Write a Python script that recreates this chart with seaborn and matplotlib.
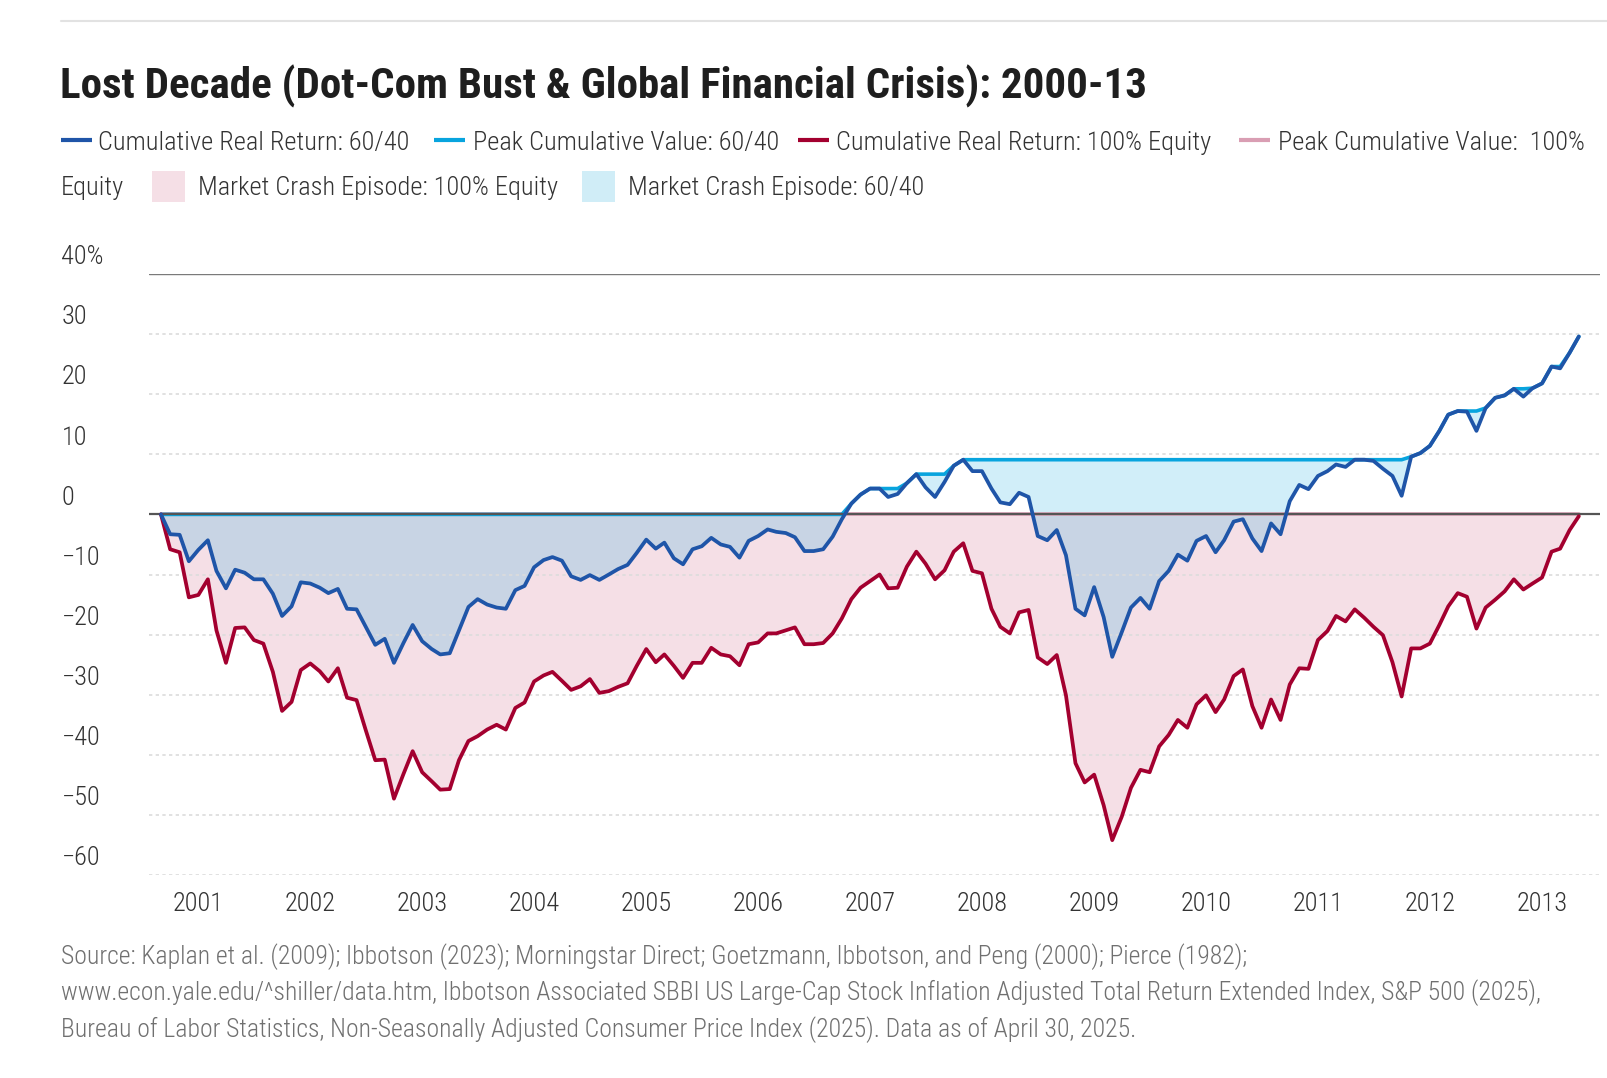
import matplotlib
matplotlib.use('Agg')
import matplotlib.pyplot as plt
from matplotlib import font_manager
from matplotlib.lines import Line2D
from matplotlib.patches import Rectangle
import pandas as pd
import seaborn as sns


# ---- Data ----------------------------------------------------####

# monthly cumulative real return (%), starting Sept 2000
start_month = '2000-09-01'

cum_6040 = [0, -3.3, -3.4, -7.8, -5.9, -4.3, -9.4, -12.3, -9.2, -9.7,
            -10.8, -10.8, -13.2, -16.9, -15.3, -11.3, -11.5, -12.2, -13.1, -12.4,
            -15.7, -15.8, -18.7, -21.7, -20.7, -24.7, -21.4, -18.4, -21.1, -22.4,
            -23.3, -23.1, -19.3, -15.4, -14.1, -15.0, -15.5, -15.7, -12.6, -11.9,
            -8.8, -7.6, -7.1, -7.7, -10.3, -10.9, -10.1, -10.9, -10.0, -9.1,
            -8.4, -6.4, -4.2, -5.7, -4.7, -7.3, -8.3, -5.8, -5.3, -3.9,
            -5.0, -5.4, -7.2, -4.4, -3.6, -2.5, -2.9, -3.1, -3.8, -6.1,
            -6.1, -5.8, -3.7, -0.8, 1.8, 3.3, 4.3, 4.3, 2.9, 3.4,
            5.2, 6.7, 4.5, 2.9, 5.4, 8.1, 9.1, 7.2, 7.2, 4.3,
            2.0, 1.7, 3.6, 2.9, -3.6, -4.3, -2.6, -6.8, -15.7, -16.8,
            -12.1, -17.1, -23.7, -19.6, -15.5, -13.9, -15.7, -11.1, -9.4, -6.7,
            -7.7, -4.4, -3.6, -6.3, -4.3, -1.2, -0.8, -4.0, -6.1, -1.5,
            -3.3, 2.2, 4.9, 4.2, 6.4, 7.2, 8.3, 7.9, 9.1, 9.1,
            8.9, 7.6, 6.4, 3.1, 9.6, 10.2, 11.4, 13.9, 16.6, 17.2,
            17.1, 13.9, 17.7, 19.4, 19.8, 20.9, 19.6, 21.0, 21.8, 24.6,
            24.3, 26.9, 29.6]

cum_equity = [0, -5.8, -6.3, -13.8, -13.4, -10.8, -19.3, -24.7, -18.9, -18.8,
              -20.9, -21.5, -26.2, -32.7, -31.2, -25.9, -24.8, -26.1, -27.8, -25.6,
              -30.5, -30.9, -35.9, -40.9, -40.8, -47.3, -43.2, -39.4, -42.9, -44.4,
              -45.8, -45.7, -40.9, -37.7, -36.9, -35.8, -35.0, -35.8, -32.2, -31.3,
              -27.8, -26.8, -26.2, -27.7, -29.2, -28.6, -27.4, -29.7, -29.4, -28.7,
              -28.1, -25.2, -22.4, -24.6, -23.3, -25.2, -27.2, -24.7, -24.7, -22.2,
              -23.3, -23.6, -25.1, -21.6, -21.3, -19.8, -19.8, -19.3, -18.8, -21.6,
              -21.6, -21.4, -19.8, -17.3, -14.1, -12.2, -11.1, -10.0, -12.3, -12.2,
              -8.7, -6.2, -8.2, -10.8, -9.3, -6.2, -4.8, -9.4, -9.8, -15.7,
              -18.7, -19.8, -16.3, -15.9, -23.8, -24.9, -23.4, -30.1, -41.4, -44.6,
              -43.3, -48.4, -54.2, -50.3, -45.5, -42.5, -42.9, -38.6, -36.7, -34.2,
              -35.5, -31.6, -30.1, -32.9, -30.8, -26.9, -25.8, -31.9, -35.5, -30.8,
              -34.2, -28.3, -25.6, -25.7, -20.9, -19.4, -16.9, -17.8, -15.8, -17.2,
              -18.7, -20.1, -24.6, -30.3, -22.3, -22.3, -21.5, -18.4, -15.3, -13.1,
              -13.7, -19.0, -15.5, -14.2, -12.8, -10.8, -12.5, -11.5, -10.5, -6.2,
              -5.7, -2.6, -0.3]

year_ticks = list(range(2001, 2014))
y_ticks = [40, 30, 20, 10, 0, -10, -20, -30, -40, -50, -60]
y_tick_labels = ['40%', '30', '20', '10', '0', '\u221210', '\u221220', '\u221230',
                 '\u221240', '\u221250', '\u221260']

legend_lines = ['Cumulative Real Return: 60/40', 'Peak Cumulative Value: 60/40',
                'Cumulative Real Return: 100% Equity', 'Peak Cumulative Value:  100%']
legend_patches = ['Market Crash Episode: 100% Equity', 'Market Crash Episode: 60/40']

title = 'Lost Decade (Dot-Com Bust & Global Financial Crisis): 2000-13'
source_lines = [
    'Source: Kaplan et al. (2009); Ibbotson (2023); Morningstar Direct; Goetzmann, Ibbotson, and Peng (2000); Pierce (1982);',
    'www.econ.yale.edu/^shiller/data.htm, Ibbotson Associated SBBI US Large-Cap Stock Inflation Adjusted Total Return Extended Index, S&P 500 (2025),',
    'Bureau of Labor Statistics, Non-Seasonally Adjusted Consumer Price Index (2025). Data as of April 30, 2025.',
]

# colours
c_blue = '#1f55a8'
c_lblue = '#08a4de'
c_red = '#a3002f'
c_pink = '#d99eb3'
c_pink_fill = '#f5dfe6'
c_blue_fill = '#d0edf7'


# ---- Prepare ----------------------------------------------------####

df = pd.DataFrame({
    'date': pd.date_range(start_month, periods=len(cum_6040), freq='MS'),
    'cum_6040': cum_6040,
    'cum_equity': cum_equity,
})
df['peak_6040'] = df['cum_6040'].cummax()
df['peak_equity'] = df['cum_equity'].cummax()


# ---- Fonts -----------------------------------------------------------####

sns.set_style('white')
avail = {f.name for f in font_manager.fontManager.ttflist}
base_font = 'DejaVu Sans'
for cand in ['Roboto Condensed', 'IBM Plex Sans Condensed', 'Barlow Semi Condensed',
             'Fira Sans Condensed', 'Archivo Narrow']:
    if cand in avail:
        base_font = cand
        break
plt.rcParams['font.family'] = [base_font, 'DejaVu Sans']
light = 'light'


# ---- Plot -----------------------------------------------------------####

W, H = 1608, 1078
fig = plt.figure(figsize=(W / 100, H / 100), dpi=100)


def fx(x):
    return x / W


def fy(y):
    return 1 - y / H


ax = fig.add_axes([fx(148.7), fy(875), fx(1600) - fx(148.7), fy(274) - fy(875)])

# crash episode fills
ax.fill_between(df['date'], df['cum_equity'], df['peak_equity'], color=c_pink_fill, lw=0, zorder=1)
ax.fill_between(df['date'], df['cum_6040'], df['peak_6040'], color='#00a3e0', alpha=0.18, lw=0, zorder=2)

# gridlines
for v in y_ticks:
    if v == 40:
        ax.axhline(v, color='#7a7a7a', lw=1.0, zorder=2.5)
    elif v == 0:
        ax.axhline(v, color='#555555', lw=1.6, zorder=3.5)
    else:
        ax.axhline(v, color='#dcdcdc', lw=1.2, ls=(0, (2, 2)), zorder=2.5)

# lines
sns.lineplot(data=df, x='date', y='peak_equity', color=c_pink, lw=2.6, ax=ax, zorder=3)
sns.lineplot(data=df, x='date', y='peak_6040', color=c_lblue, lw=2.6, ax=ax, zorder=3.2)
sns.lineplot(data=df, x='date', y='cum_equity', color=c_red, lw=2.7, ax=ax, zorder=4)
sns.lineplot(data=df, x='date', y='cum_6040', color=c_blue, lw=2.7, ax=ax, zorder=4.2)

ax.set_xlim(df['date'].iloc[0] - pd.Timedelta(days=40), df['date'].iloc[0] + pd.Timedelta(days=4694))
ax.set_ylim(-60, 40)
ax.set_xlabel('')
ax.set_ylabel('')
for s in ax.spines.values():
    s.set_visible(False)

ax.set_xticks(pd.to_datetime([f'{y}-01-01' for y in year_ticks]))
ax.set_xticklabels([str(y) for y in year_ticks], fontsize=19, color='#333333', fontweight=light)
ax.tick_params(axis='x', length=0, pad=12)

ax.set_yticks(y_ticks)
ax.tick_params(axis='y', length=62.6, width=1.1, color='#666666', labelleft=False)
for v, lbl in zip(y_ticks, y_tick_labels):
    ax.annotate(lbl, xy=(fx(61.5), v), xycoords=('figure fraction', 'data'),
                xytext=(0, 7), textcoords='offset points', ha='left', va='baseline',
                fontsize=19, color='#333333', fontweight=light, annotation_clip=False)

# top rule and title
fig.add_artist(Line2D([fx(61), 1], [fy(20.5), fy(20.5)], color='#e2e2e2', lw=1.5))
fig.text(fx(60), fy(99), title, fontsize=31, fontweight='bold', color='#1e1e1e',
         ha='left', va='baseline')

# legend (flowed like the original)
line_items = [(61, 98.5, c_blue, legend_lines[0]), (434, 473, c_lblue, legend_lines[1]),
              (798, 836, c_red, legend_lines[2]), (1239, 1278, c_pink, legend_lines[3])]
for x0, xt, col, lbl in line_items:
    fig.add_artist(Line2D([fx(x0), fx(x0 + 31)], [fy(140), fy(140)], color=col, lw=3,
                          solid_capstyle='butt'))
    fig.text(fx(xt), fy(150), lbl, fontsize=19, color='#333333', fontweight=light,
             ha='left', va='baseline')
fig.text(fx(61), fy(195.5), 'Equity', fontsize=19, color='#333333', fontweight=light,
         ha='left', va='baseline')
for x0, xt, col, lbl in [(152, 198, c_pink_fill, legend_patches[0]),
                         (582, 628, c_blue_fill, legend_patches[1])]:
    fig.add_artist(Rectangle((fx(x0), fy(202)), fx(33), fy(171) - fy(202),
                             transform=fig.transFigure, color=col, lw=0))
    fig.text(fx(xt), fy(195.5), lbl, fontsize=19, color='#333333', fontweight=light,
             ha='left', va='baseline')

# source
for i, line in enumerate(source_lines):
    fig.text(fx(61), fy(964 + 36.5 * i), line, fontsize=18.5, color='#707070',
             fontweight=light, ha='left', va='baseline')

fig.savefig('out.png', dpi=100)
